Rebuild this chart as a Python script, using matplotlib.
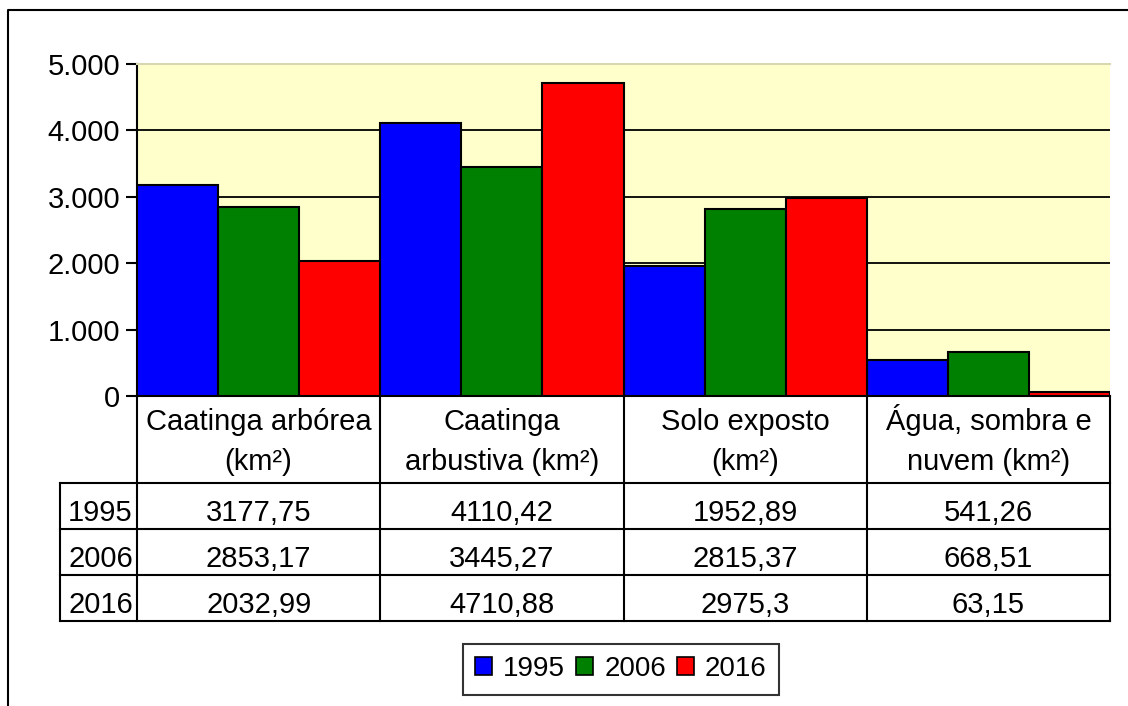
import matplotlib
matplotlib.use("Agg")
import matplotlib.pyplot as plt
from matplotlib.lines import Line2D
from matplotlib.patches import Patch
import numpy as np

plt.rcParams['font.family'] = ['Liberation Sans', 'DejaVu Sans']

categories = ["Caatinga arbórea\n(km²)", "Caatinga\narbustiva (km²)",
              "Solo exposto\n(km²)", "Água, sombra e\nnuvem (km²)"]
years = ["1995", "2006", "2016"]
v1995 = [3177.75, 4110.42, 1952.89, 541.26]
v2006 = [2853.17, 3445.27, 2815.37, 668.51]
v2016 = [2032.99, 4710.88, 2975.3, 63.15]
labels1995 = ["3177,75", "4110,42", "1952,89", "541,26"]
labels2006 = ["2853,17", "3445,27", "2815,37", "668,51"]
labels2016 = ["2032,99", "4710,88", "2975,3", "63,15"]
yticks = [0, 1000, 2000, 3000, 4000, 5000]
ytick_labels = ["0", "1.000", "2.000", "3.000", "4.000", "5.000"]

colors = ["#0000FF", "#008000", "#FF0000"]
series = [v1995, v2006, v2016]
table_rows = [labels1995, labels2006, labels2016]

W, H = 1128, 706
fig = plt.figure(figsize=(W / 100, H / 100), dpi=100)
FS = 21

def fx(px):
    return px / W

def fy(py):
    return 1 - py / H

# plot area
L, R, T, B = 137, 1110, 64, 396
ax = fig.add_axes([fx(L), fy(B), fx(R) - fx(L), fy(T) - fy(B)])
ax.set_facecolor("#FFFFCC")
x = np.arange(len(categories))
bw = 1 / 3
for i, (vals, c) in enumerate(zip(series, colors)):
    ax.bar(x + (i - 1) * bw, vals, width=bw, color=c, edgecolor="black",
           linewidth=1.5, label=years[i], zorder=3)
ax.set_xlim(-0.5, len(categories) - 0.5)
ax.set_ylim(0, 5000)
ax.set_yticks(yticks)
ax.set_yticklabels(ytick_labels, fontsize=FS)
ax.set_xticks([])
ax.tick_params(axis="y", length=8, width=1.5, pad=4, direction="out")
ax.grid(axis="y", color="black", linewidth=1.3, zorder=1)
ax.spines["right"].set_visible(False)
ax.spines["top"].set_color("#d8d8b0")
ax.spines["top"].set_linewidth(1.5)
ax.spines["left"].set_linewidth(1.5)
ax.spines["bottom"].set_linewidth(1.5)

# table
TB = 621
tax = fig.add_axes([fx(L), fy(TB), fx(R) - fx(L), fy(B) - fy(TB)])
tax.set_xlim(-0.5, len(categories) - 0.5)
tax.set_ylim(TB, B)
tax.axis("off")
unit = (R - L) / len(categories)
xl = -0.5 - (L - 60) / unit
row_lines = [483, 529, 575, 621]
lw = 1.5
for xv in np.arange(-0.5, len(categories), 1.0):
    tax.plot([xv, xv], [B, TB], color="black", lw=lw, clip_on=False)
tax.plot([xl, xl], [row_lines[0], TB], color="black", lw=lw, clip_on=False)
for yv in row_lines:
    tax.plot([xl, len(categories) - 0.5], [yv, yv], color="black", lw=lw, clip_on=False)
for j, cat in enumerate(categories):
    l1, l2 = cat.split("\n")
    tax.text(j, 430, l1, ha="center", va="baseline", fontsize=FS)
    tax.text(j, 470, l2, ha="center", va="baseline", fontsize=FS)
for r, (yr, labs) in enumerate(zip(years, table_rows)):
    yb = row_lines[r + 1] - 8
    tax.text(xl + 8 / unit, yb, yr, ha="left", va="baseline", fontsize=FS, clip_on=False)
    for j, lab in enumerate(labs):
        tax.text(j, yb, lab, ha="center", va="baseline", fontsize=FS)

# legend
handles = [Patch(facecolor=c, edgecolor="black", linewidth=1.2) for c in colors]
leg = fig.legend(handles, years, loc="center", bbox_to_anchor=(fx(621), fy(669)),
                 ncol=3, fontsize=20, frameon=True, fancybox=False,
                 handlelength=0.6, handleheight=0.6, handletextpad=0.4,
                 columnspacing=0.4, borderpad=0.45, borderaxespad=0)
leg.get_frame().set_edgecolor("black")
leg.get_frame().set_linewidth(1.5)

# outer chart border (left and top only visible)
fig.add_artist(Line2D([fx(8), fx(8), 1.01], [-0.01, fy(10), fy(10)],
                      transform=fig.transFigure, color="black", lw=1.5))

fig.savefig("out.png", dpi=100)
